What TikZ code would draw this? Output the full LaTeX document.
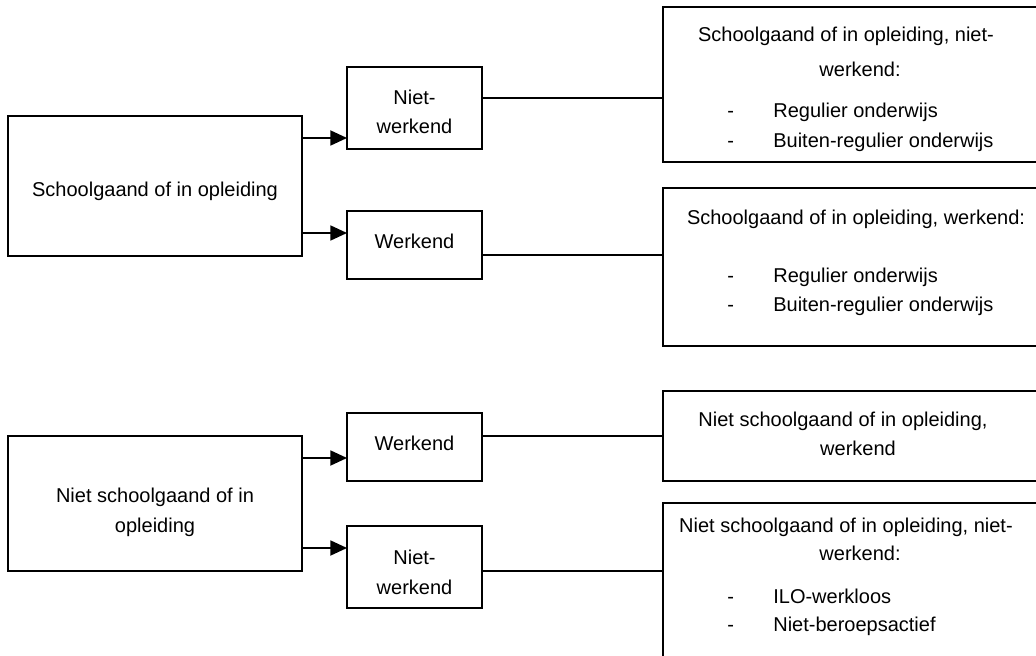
\documentclass[tikz,border=0pt]{standalone}
\usepackage{fontspec}
\setmainfont{Liberation Sans}
\usetikzlibrary{arrows.meta,fit}
\tikzset{>={Triangle[length=10pt,width=9pt]}}
\tikzset{box/.style={draw,line width=1.1pt,inner sep=0pt},
            txt/.style={anchor=base,inner sep=0pt,font=\fontsize{12}{14}\selectfont},
            lijst/.style={txt,anchor=base west},
            pijl/.style={line width=1.1pt,->},
            lijn/.style={line width=0.9pt},
            }
\newcommand{\streep}[1]{\makebox[27.6pt][l]{-}#1}

\begin{document}
\begin{tikzpicture}[x=0.6pt,y=-0.6pt]

    \useasboundingbox (0,0) rectangle (1036,656);
    \fill[white] (0,0) rectangle (1036,656);
    \clip (0,0) rectangle (1036,656);

    % linker blokken
    \node[box,fit={(8,116) (302,256)}] (s) {};
    \node[box,fit={(8,436) (302,571)}] (ns) {};
    \node[txt] (st) at (155,197) {Schoolgaand of in opleiding};
    \node[txt] (nst1) at (155,502) {Niet schoolgaand of in};
    \node[txt] (nst2) at (155,532) {opleiding};

    % middelste blokken
    \node[box,fit={(347,67) (482,149)}] (snw) {};
    \node[box,fit={(347,211) (482,279)}] (sw) {};
    \node[box,fit={(347,413) (482,481)}] (nsw) {};
    \node[box,fit={(347,526) (482,608)}] (nsnw) {};
    \node[txt] (snwt1) at (414.5,105) {Niet-};
    \node[txt] (snwt2) at (414.5,134) {werkend};
    \node[txt] (swt) at (414.5,248) {Werkend};
    \node[txt] (nswt) at (414.5,450) {Werkend};
    \node[txt] (nsnwt1) at (414.5,564) {Niet-};
    \node[txt] (nsnwt2) at (414.5,594) {werkend};

    % rechter blokken
    \node[box,fit={(663,7) (1050,162)}] (r1) {};
    \node[box,fit={(663,188) (1050,346)}] (r2) {};
    \node[box,fit={(663,391) (1050,481)}] (r3) {};
    \node[box,fit={(663,503) (1050,690)}] (r4) {};
    \node[txt] (r1t1) at (846,42) {Schoolgaand of in opleiding, niet-};
    \node[txt] (r1t2) at (860,77) {werkend:};
    \node[lijst] (r1a) at (727,118) {\streep{Regulier onderwijs}};
    \node[lijst] (r1b) at (727,148) {\streep{Buiten-regulier onderwijs}};
    \node[txt] (r2t) at (856,225) {Schoolgaand of in opleiding, werkend:};
    \node[lijst] (r2a) at (727,282) {\streep{Regulier onderwijs}};
    \node[lijst] (r2b) at (727,311) {\streep{Buiten-regulier onderwijs}};
    \node[txt] (r3t1) at (843,426) {Niet schoolgaand of in opleiding,};
    \node[txt] (r3t2) at (858,455) {werkend};
    \node[txt] (r4t1) at (846,532) {Niet schoolgaand of in opleiding, niet-};
    \node[txt] (r4t2) at (860,560) {werkend:};
    \node[lijst] (r4a) at (727,603) {\streep{ILO-werkloos}};
    \node[lijst] (r4b) at (727,631) {\streep{Niet-beroepsactief}};

    % pijlen en lijnen
    \coordinate (a1) at (347,138);
    \coordinate (a2) at (347,233);
    \coordinate (a3) at (347,458);
    \coordinate (a4) at (347,548);
    \draw[pijl] (s.east |- a1) -- (a1);
    \draw[pijl] (s.east |- a2) -- (a2);
    \draw[pijl] (ns.east |- a3) -- (a3);
    \draw[pijl] (ns.east |- a4) -- (a4);

    \coordinate (b1) at (663,98);
    \coordinate (b2) at (663,255);
    \coordinate (b3) at (663,436);
    \coordinate (b4) at (663,571);
    \draw[lijn] (snw.east |- b1) -- (b1);
    \draw[lijn] (sw.east |- b2) -- (b2);
    \draw[lijn] (nsw.east |- b3) -- (b3);
    \draw[lijn] (nsnw.east |- b4) -- (b4);

\end{tikzpicture}
\end{document}
